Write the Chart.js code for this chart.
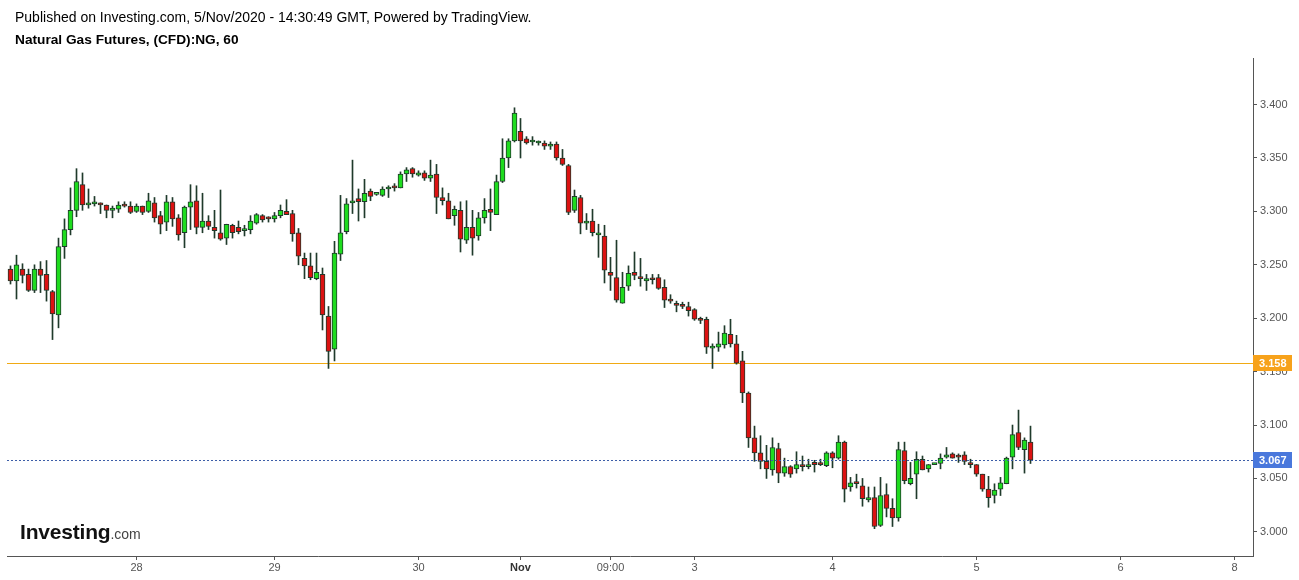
<!DOCTYPE html>
<html><head><meta charset="utf-8">
<script src="https://cdn.jsdelivr.net/npm/chart.js@4.4.0/dist/chart.umd.min.js"></script>
<style>
html,body{margin:0;padding:0;background:#fff;}
#wrap{position:relative;width:1299px;height:580px;overflow:hidden;font-family:'Liberation Sans',Arial,sans-serif;}
#c{position:absolute;left:0;top:0;}
.h1{position:absolute;left:15px;top:9px;font-size:14px;line-height:16px;color:#000;white-space:nowrap;}
.h2{position:absolute;left:15px;top:32px;font-size:13.7px;line-height:16px;font-weight:bold;color:#000;white-space:nowrap;}
.logo{position:absolute;left:20px;top:520px;white-space:nowrap;line-height:24px;}
.logo .a{font-size:21px;font-weight:bold;color:#111;letter-spacing:-0.2px;}
.logo .b{font-size:14px;color:#444;}
</style></head>
<body>
<div id="wrap">
<canvas id="c" width="1299" height="580"></canvas>
<div class="h1">Published on Investing.com, 5/Nov/2020 - 14:30:49 GMT, Powered by TradingView.</div>
<div class="h2">Natural Gas Futures, (CFD):NG, 60</div>
<div class="logo"><span class="a">Investing</span><span class="b">.com</span></div>
</div>
<script>
const opens = [3.246,3.235,3.246,3.241,3.226,3.246,3.241,3.225,3.203,3.267,3.283,3.301,3.325,3.306,3.307,3.308,3.306,3.301,3.302,3.306,
3.305,3.300,3.305,3.300,3.308,3.296,3.290,3.309,3.294,3.280,3.304,3.310,3.285,3.291,3.285,3.280,3.275,3.287,3.285,3.282,
3.283,3.289,3.296,3.294,3.293,3.296,3.300,3.298,3.280,3.256,3.249,3.237,3.241,3.202,3.171,3.260,3.281,3.308,3.312,3.309,
3.319,3.316,3.315,3.321,3.323,3.322,3.335,3.340,3.334,3.336,3.331,3.335,3.313,3.310,3.296,3.301,3.273,3.285,3.277,3.294,
3.302,3.297,3.328,3.350,3.366,3.375,3.368,3.365,3.364,3.364,3.361,3.363,3.350,3.343,3.301,3.313,3.289,3.291,3.278,3.277,
3.243,3.238,3.214,3.230,3.243,3.238,3.235,3.237,3.238,3.229,3.217,3.214,3.213,3.211,3.208,3.199,3.199,3.172,3.173,3.175,
3.185,3.176,3.160,3.130,3.088,3.074,3.066,3.058,3.078,3.055,3.061,3.059,3.063,3.061,3.065,3.064,3.062,3.074,3.069,3.084,
3.042,3.047,3.043,3.030,3.032,3.006,3.035,3.022,3.013,3.076,3.045,3.054,3.068,3.059,3.063,3.064,3.070,3.073,3.071,3.072,
3.064,3.063,3.054,3.040,3.034,3.040,3.045,3.070,3.093,3.077,3.084];
const highs = [3.249,3.259,3.251,3.246,3.250,3.253,3.254,3.226,3.275,3.293,3.322,3.340,3.336,3.321,3.314,3.308,3.306,3.305,3.309,3.309,
3.309,3.307,3.305,3.317,3.313,3.300,3.315,3.313,3.297,3.305,3.325,3.324,3.317,3.296,3.301,3.320,3.288,3.288,3.291,3.287,
3.296,3.298,3.297,3.295,3.299,3.306,3.311,3.301,3.284,3.261,3.261,3.261,3.247,3.211,3.272,3.315,3.312,3.348,3.321,3.330,
3.321,3.316,3.323,3.324,3.326,3.337,3.341,3.341,3.338,3.338,3.348,3.344,3.322,3.317,3.305,3.309,3.310,3.301,3.299,3.312,
3.321,3.334,3.368,3.368,3.397,3.387,3.370,3.370,3.366,3.366,3.365,3.365,3.358,3.344,3.320,3.315,3.298,3.302,3.288,3.287,
3.257,3.273,3.243,3.249,3.262,3.256,3.241,3.241,3.241,3.236,3.222,3.216,3.215,3.215,3.209,3.201,3.201,3.176,3.187,3.193,
3.199,3.184,3.169,3.131,3.099,3.090,3.081,3.088,3.083,3.069,3.062,3.075,3.071,3.068,3.067,3.068,3.075,3.075,3.090,3.085,
3.051,3.054,3.050,3.042,3.042,3.051,3.045,3.031,3.084,3.084,3.065,3.075,3.071,3.063,3.064,3.073,3.079,3.074,3.073,3.075,
3.068,3.063,3.054,3.052,3.045,3.051,3.070,3.100,3.114,3.088,3.099];
const lows = [3.232,3.218,3.233,3.225,3.224,3.224,3.216,3.180,3.191,3.256,3.278,3.295,3.301,3.303,3.305,3.298,3.294,3.294,3.299,3.304,
3.298,3.299,3.297,3.299,3.290,3.279,3.282,3.286,3.273,3.266,3.283,3.279,3.280,3.283,3.275,3.273,3.269,3.275,3.279,3.277,
3.279,3.288,3.290,3.290,3.290,3.294,3.297,3.272,3.250,3.237,3.236,3.236,3.189,3.153,3.160,3.254,3.279,3.298,3.291,3.294,
3.310,3.315,3.314,3.313,3.319,3.322,3.328,3.332,3.333,3.329,3.328,3.298,3.306,3.293,3.287,3.262,3.270,3.259,3.273,3.289,
3.282,3.297,3.327,3.341,3.365,3.350,3.363,3.362,3.362,3.358,3.358,3.348,3.343,3.297,3.299,3.279,3.283,3.277,3.257,3.233,
3.226,3.215,3.214,3.226,3.236,3.230,3.226,3.232,3.227,3.210,3.214,3.206,3.209,3.202,3.198,3.195,3.167,3.153,3.169,3.172,
3.173,3.157,3.121,3.079,3.066,3.059,3.050,3.053,3.046,3.052,3.051,3.055,3.057,3.059,3.056,3.062,3.061,3.060,3.068,3.028,
3.038,3.041,3.024,3.028,3.003,3.005,3.014,3.005,3.010,3.045,3.044,3.031,3.058,3.056,3.063,3.059,3.069,3.069,3.065,3.063,
3.060,3.052,3.038,3.023,3.027,3.034,3.045,3.059,3.077,3.055,3.064];
const closes = [3.235,3.250,3.240,3.226,3.246,3.240,3.226,3.204,3.267,3.283,3.301,3.328,3.306,3.308,3.309,3.306,3.301,3.303,3.306,3.305,
3.299,3.305,3.299,3.310,3.294,3.288,3.309,3.293,3.278,3.304,3.309,3.285,3.291,3.286,3.282,3.274,3.288,3.280,3.281,3.283,
3.291,3.297,3.292,3.293,3.296,3.301,3.297,3.279,3.258,3.249,3.238,3.243,3.203,3.169,3.261,3.280,3.307,3.310,3.309,3.317,
3.314,3.316,3.321,3.322,3.322,3.335,3.339,3.335,3.336,3.331,3.334,3.313,3.310,3.293,3.302,3.274,3.285,3.275,3.294,3.301,
3.299,3.328,3.350,3.366,3.392,3.366,3.364,3.365,3.365,3.361,3.363,3.350,3.344,3.299,3.314,3.289,3.291,3.280,3.280,3.245,
3.240,3.217,3.229,3.242,3.240,3.237,3.237,3.236,3.228,3.217,3.216,3.212,3.211,3.207,3.199,3.198,3.173,3.173,3.176,3.186,
3.176,3.158,3.130,3.088,3.074,3.066,3.059,3.079,3.055,3.061,3.054,3.063,3.061,3.063,3.063,3.063,3.074,3.069,3.084,3.040,
3.046,3.045,3.031,3.032,3.005,3.034,3.022,3.013,3.077,3.048,3.050,3.068,3.058,3.063,3.063,3.069,3.072,3.069,3.070,3.066,
3.063,3.054,3.040,3.032,3.039,3.046,3.069,3.091,3.079,3.086,3.067];

const xTickPositions = [21, 44, 68, 85, 100, 114, 137, 161, 185, 204];
const xTickLabels = ['28', '29', '30', 'Nov', '09:00', '3', '4', '5', '6', '8'];
const yTickValues = [3.000, 3.050, 3.100, 3.150, 3.200, 3.250, 3.300, 3.350, 3.400];
const supportLevel = 3.158;
const lastPrice = 3.067;

const UP = '#1fdc1f', DOWN = '#dc1212', EDGE = '#1f3a2b';
const AXIS = '#555555';

const wickData = opens.map((o, i) => ({x: i, y: [lows[i], highs[i]]}));
const bodyData = opens.map((o, i) => ({x: i, y: [o, closes[i]]}));
const bodyColors = opens.map((o, i) => closes[i] >= o ? UP : DOWN);

const refLines = {
  id: 'refLines',
  beforeDatasetsDraw(chart) {
    const {ctx, chartArea, scales} = chart;
    const y = Math.round(scales.y.getPixelForValue(supportLevel));
    ctx.save();
    ctx.globalAlpha = 1;
    ctx.fillStyle = 'rgb(240,170,20)';
    ctx.fillRect(chartArea.left, y, chartArea.right - chartArea.left, 1);
    ctx.restore();
  },
  afterDatasetsDraw(chart) {
    const {ctx, chartArea, scales} = chart;
    const y = Math.round(scales.y.getPixelForValue(lastPrice)) + 0.5;
    ctx.save();
    ctx.strokeStyle = '#3d5ea8'; ctx.lineWidth = 1; ctx.setLineDash([2, 2]);
    ctx.beginPath(); ctx.moveTo(chartArea.left, y); ctx.lineTo(chartArea.right, y); ctx.stroke();
    ctx.restore();
  },
  afterDraw(chart) {
    const {ctx, chartArea, scales} = chart;
    const boxes = [[supportLevel, '#f7a21b'], [lastPrice, '#4a78dc']];
    ctx.save();
    boxes.forEach(([v, col]) => {
      const y = Math.round(scales.y.getPixelForValue(v));
      ctx.fillStyle = col;
      ctx.fillRect(chartArea.right, y - 8, 39, 16);
      ctx.fillStyle = '#ffffff';
      ctx.font = 'bold 11px "Liberation Sans", Arial, sans-serif';
      ctx.textBaseline = 'middle'; ctx.textAlign = 'left';
      ctx.fillText(v.toFixed(3), chartArea.right + 6, y + 0.5);
    });
    ctx.restore();
  }
};

Chart.defaults.font.family = '"Liberation Sans", Arial, sans-serif';
Chart.defaults.font.size = 11;

new Chart(document.getElementById('c'), {
  type: 'bar',
  data: {
    datasets: [
      {label: 'wick', data: wickData, backgroundColor: EDGE, borderWidth: 0, barThickness: 1, grouped: false, order: 2},
      {label: 'body', data: bodyData, backgroundColor: bodyColors, borderColor: EDGE, borderWidth: 1, borderSkipped: false,
       barThickness: 5, minBarLength: 2, grouped: false, order: 1}
    ]
  },
  options: {
    responsive: false,
    animation: false,
    events: [],
    layout: {padding: {left: 7, top: 58, right: 0, bottom: 0}},
    plugins: {legend: {display: false}, tooltip: {enabled: false}, title: {display: false}},
    scales: {
      x: {
        type: 'linear', offset: false,
        min: -0.5833, max: 207.0833,
        grid: {drawOnChartArea: false, drawTicks: true, tickLength: 4, color: AXIS, offset: false},
        border: {display: true, color: AXIS, width: 1},
        afterBuildTicks: (axis) => { axis.ticks = xTickPositions.map(v => ({value: v})); },
        afterFit: (axis) => { axis.height = 24; },
        ticks: {
          autoSkip: false, maxRotation: 0, padding: 1,
          color: (c) => (xTickLabels[c.index] === 'Nov') ? '#333' : AXIS,
          font: (c) => ({size: 11, weight: (xTickLabels[c.index] === 'Nov') ? 'bold' : 'normal'}),
          callback: (v, i) => xTickLabels[i]
        }
      },
      y: {
        type: 'linear', position: 'right', beginAtZero: false,
        min: 2.9774, max: 3.4436,
        grid: {drawOnChartArea: false, drawTicks: true, tickLength: 4, color: AXIS},
        border: {display: true, color: AXIS, width: 1},
        afterBuildTicks: (axis) => { axis.ticks = yTickValues.map(v => ({value: v})); },
        afterFit: (axis) => { axis.width = 46; },
        ticks: {padding: 3, color: AXIS, callback: (v) => Number(v).toFixed(3)}
      }
    }
  },
  plugins: [refLines]
});
</script>
</body></html>
